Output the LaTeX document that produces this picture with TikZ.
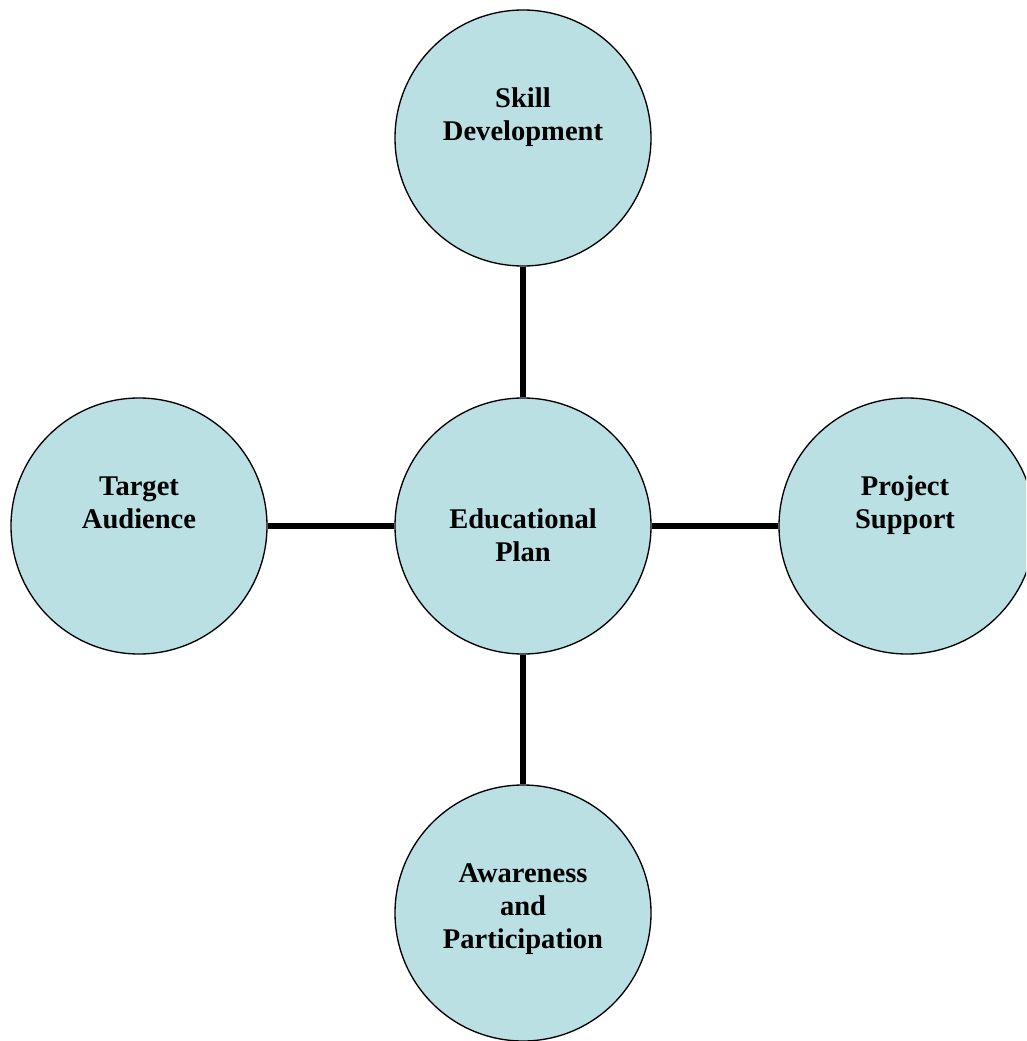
\documentclass[tikz,border=0pt]{standalone}
\usepackage{fontspec}
\setmainfont{Liberation Serif}
\definecolor{bubblefill}{HTML}{BBE0E3}

\begin{document}
\begin{tikzpicture}[x=0.75pt,y=0.75pt,yscale=-1,xscale=1,
  bubble/.style={circle,draw=black,line width=1pt,fill=bubblefill,minimum size=192pt,inner sep=0pt},
  caption/.style={align=center,font=\bfseries\fontsize{21.4}{24.8}\selectfont},
  link/.style={line width=3.8pt}]
\useasboundingbox[clip] (0,0) rectangle (1026,1041);

\node [bubble] (skill) at (523,138) {};
\node [bubble] (plan) at (523,526) {};
\node [bubble] (target) at (139,526) {};
\node [bubble] (project) at (907,526) {};
\node [bubble] (aware) at (523,913) {};

\draw [link] (skill) -- (plan) ;
\draw [link] (target) -- (plan) ;
\draw [link] (plan) -- (project) ;
\draw [link] (plan) -- (aware) ;

\node [caption] (skilltxt) at (523,117) {Skill\\Development};
\node [caption] (plantxt) at (523,535) {Educational\\Plan};
\node [caption] (targettxt) at (139,503) {Target\\Audience};
\node [caption] (projecttxt) at (905,505) {Project\\Support};
\node [caption] (awaretxt) at (523,909) {Awareness\\and\\Participation};
\end{tikzpicture}
\end{document}
